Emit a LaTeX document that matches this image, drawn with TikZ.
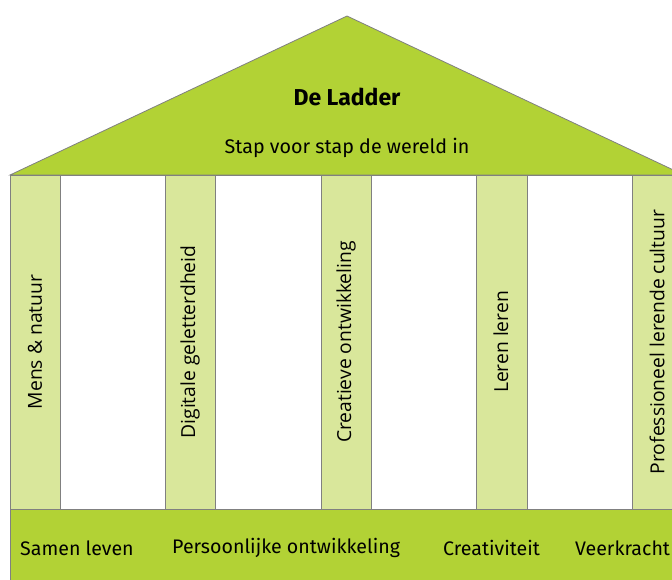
\documentclass[tikz,border=0pt]{standalone}
\usepackage{fontspec}
\setmainfont{Fira Sans}
\newfontfamily\pillarfont{Open Sans}
\definecolor{roofgreen}{HTML}{B2D235}
\definecolor{pillargreen}{HTML}{D9E79B}
\definecolor{edgegrey}{HTML}{808080}
\tikzset{
  roof/.style={fill=roofgreen, draw=edgegrey, line width=0.8pt},
  pillar/.style={fill=pillargreen, draw=edgegrey, line width=0.8pt},
  pillartext/.style={rotate=90, inner sep=0pt, font=\pillarfont\fontsize{19.3}{23}\selectfont},
  basetext/.style={anchor=west, inner sep=0pt, font=\fontsize{19.6}{23}\selectfont},
}
\begin{document}
\begin{tikzpicture}[x=1pt, y=-1pt]
  \useasboundingbox (0,0) rectangle (672,579);
  \clip (0,0) rectangle (672,579);
  % roof
  \draw[roof] (10,175) -- (347,16) -- (684,175) -- cycle;
  \node[font=\bfseries\fontsize{23}{27}\selectfont] (title) at (347,97) {De Ladder};
  \node[font=\fontsize{19.7}{23}\selectfont] (motto) at (347,148) {Stap voor stap de wereld in};
  % pillars
  \draw[draw=edgegrey, line width=0.8pt, fill=white] (10,175) rectangle (684,509);
  \draw[pillar] (10,175) rectangle (60,509);
  \draw[pillar] (165,175) rectangle (215,509);
  \draw[pillar] (321,175) rectangle (371,509);
  \draw[pillar] (476,175) rectangle (527,509);
  \draw[pillar] (632,175) rectangle (682,509);
  \node[pillartext] (p1) at (35,342) {Mens \& natuur};
  \node[pillartext] (p2) at (190,342) {Digitale geletterdheid};
  \node[pillartext] (p3) at (346,342) {Creatieve ontwikkeling};
  \node[pillartext] (p4) at (501,342) {Leren leren};
  \node[pillartext] (p5) at (657,342) {Professioneel lerende cultuur};
  % base
  \draw[roof] (10,509) rectangle (684,600);
  \node[basetext] (b1) at (20,548) {Samen leven};
  \node[basetext] (b2) at (172,548) {Persoonlijke ontwikkeling};
  \node[basetext] (b3) at (443,548) {Creativiteit};
  \node[basetext] (b4) at (575,548) {Veerkracht};
\end{tikzpicture}
\end{document}
